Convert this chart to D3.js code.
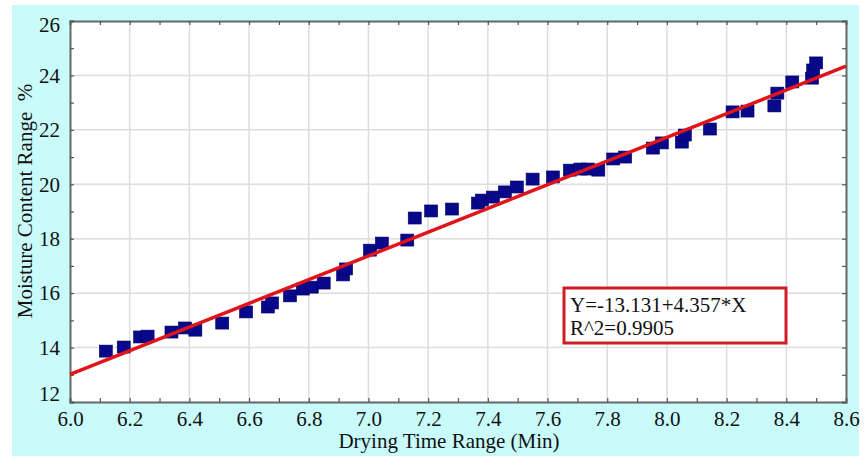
<!DOCTYPE html>
<html><head><meta charset="utf-8">
<script src="https://cdn.jsdelivr.net/npm/d3@7"></script>
<style>body{margin:0;background:#fff}</style>
</head><body><svg id="c" width="868" height="460"></svg>
<script>
const dryingTime = [6.12,6.18,6.235,6.26,6.34,6.385,6.42,6.51,6.59,6.663,6.677,6.737,6.78,6.81,6.85,6.915,6.925,7.005,7.045,7.13,7.155,7.21,7.28,7.367,7.38,7.417,7.457,7.497,7.55,7.618,7.675,7.71,7.735,7.77,7.82,7.86,7.953,7.983,8.05,8.06,8.144,8.22,8.27,8.36,8.37,8.42,8.486,8.49,8.5];
const moisture   = [13.87,14.02,14.39,14.42,14.57,14.72,14.64,14.90,15.31,15.49,15.64,15.9,16.15,16.22,16.37,16.67,16.89,17.58,17.84,17.95,18.76,19.02,19.09,19.31,19.42,19.53,19.72,19.9,20.19,20.27,20.52,20.56,20.56,20.52,20.93,21.0,21.33,21.52,21.55,21.81,22.03,22.66,22.69,22.88,23.35,23.76,23.9,24.2,24.46];
const xTickLabels = [6.0,6.2,6.4,6.6,6.8,7.0,7.2,7.4,7.6,7.8,8.0,8.2,8.4,8.6];
const yTickLabels = [12,14,16,18,20,22,24,26];
const intercept = -13.131;
const slope = 4.357;
const equationText = "Y=-13.131+4.357*X";
const r2Text = "R^2=0.9905";
const xTitle = "Drying Time Range (Min)";
const yTitle = "Moisture Content Range\u00a0\u00a0%";

const svg = d3.select("#c");
const L = 70, R = 846, T = 21, B = 402;
const x = d3.scaleLinear().domain([6.0, 8.6]).range([L, R]);
const y = d3.scaleLinear().domain([12, 26]).range([B, T]);
const font = "'Liberation Serif','Times New Roman',serif";

svg.append("rect").attr("x", 12).attr("y", 5).attr("width", 847).attr("height", 451).attr("fill", "#c9fbfb");
svg.append("rect").attr("x", L).attr("y", T).attr("width", R - L).attr("height", B - T).attr("fill", "#fff");

// grid
svg.append("g").selectAll("line").data(xTickLabels.slice(1, -1)).join("line")
  .attr("x1", d => x(d)).attr("x2", d => x(d)).attr("y1", T).attr("y2", B)
  .attr("stroke", "#dddddd").attr("stroke-width", 1.5);
svg.append("g").selectAll("line").data(yTickLabels.slice(1, -1)).join("line")
  .attr("y1", d => y(d)).attr("y2", d => y(d)).attr("x1", L).attr("x2", R)
  .attr("stroke", "#dddddd").attr("stroke-width", 1.5);

// minor ticks
const xMinor = d3.range(0, 27).map(i => 6.0 + i * 0.1);
const yMinor = d3.range(12, 27, 1);
const tickCol = "#555";
const xb = svg.append("g").attr("transform", `translate(0,${B})`)
  .call(d3.axisBottom(x).tickValues(xMinor).tickSize(-4).tickFormat(""));
const xt = svg.append("g").attr("transform", `translate(0,${T})`)
  .call(d3.axisTop(x).tickValues(xMinor).tickSize(-4).tickFormat(""));
const yl = svg.append("g").attr("transform", `translate(${L},0)`)
  .call(d3.axisLeft(y).tickValues(yMinor).tickSize(-4).tickFormat(""));
const yr = svg.append("g").attr("transform", `translate(${R},0)`)
  .call(d3.axisRight(y).tickValues(yMinor).tickSize(-4).tickFormat(""));
[xb, xt, yl, yr].forEach(g => {
  g.selectAll(".tick line").attr("stroke", tickCol).attr("stroke-width", 1.2);
  g.select(".domain").attr("stroke", "#666").attr("stroke-width", 2);
});

// tick labels
const xl = svg.append("g").attr("transform", `translate(0,${B})`)
  .call(d3.axisBottom(x).tickValues(xTickLabels).tickSize(0).tickPadding(6).tickFormat(d3.format(".1f")))
  .attr("font-family", font).attr("font-size", 21);
xl.select(".domain").remove();
xl.selectAll("text").attr("font-family", font).attr("font-size", 21).attr("fill", "#111")
  .attr("dy", "0.85em");
const ylab = svg.append("g").attr("transform", `translate(${L},0)`)
  .call(d3.axisLeft(y).tickValues(yTickLabels).tickSize(0).tickPadding(10).tickFormat(d3.format("d")))
  .attr("font-family", font).attr("font-size", 21);
ylab.select(".domain").remove();
ylab.selectAll("text").attr("font-family", font).attr("font-size", 21).attr("fill", "#111")
  .attr("dy", d => d === 12 ? "-0.05em" : d === 26 ? "0.5em" : "0.32em");

// points
const pts = dryingTime.map((d, i) => ({ t: d, m: moisture[i] }));
const sw = 13, sh = 12;
svg.append("g").selectAll("rect").data(pts).join("rect")
  .attr("x", d => x(d.t) - sw / 2).attr("y", d => y(d.m) - sh / 2)
  .attr("width", sw).attr("height", sh)
  .attr("fill", "#08088a").attr("stroke", "#000060").attr("stroke-width", 0.6);

// regression line
const xs = x.domain();
svg.append("path")
  .datum(xs.map(v => [v, intercept + slope * v]))
  .attr("d", d3.line().x(d => x(d[0])).y(d => y(d[1])))
  .attr("stroke", "#e0141a").attr("stroke-width", 3.5).attr("fill", "none");

// equation box
svg.append("rect").attr("x", 564).attr("y", 288).attr("width", 222).attr("height", 55)
  .attr("fill", "#fff").attr("stroke", "#d21c24").attr("stroke-width", 3);
svg.append("text").attr("x", 570).attr("y", 312).text(equationText)
  .attr("font-family", font).attr("font-size", 21).attr("fill", "#111");
svg.append("text").attr("x", 570).attr("y", 335).text(r2Text)
  .attr("font-family", font).attr("font-size", 21).attr("fill", "#111");

// axis titles
svg.append("text").attr("x", 449).attr("y", 448).attr("text-anchor", "middle")
  .text(xTitle).attr("font-family", font).attr("font-size", 21).attr("fill", "#111");
svg.append("text").attr("transform", "translate(32,201) rotate(-90)").attr("text-anchor", "middle")
  .text(yTitle).attr("font-family", font).attr("font-size", 21).attr("fill", "#111");
</script></body></html>
